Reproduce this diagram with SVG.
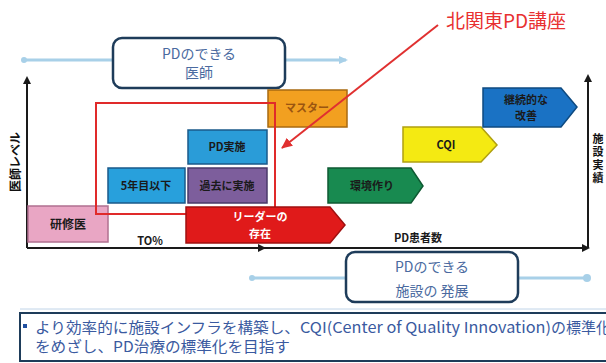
<svg xmlns="http://www.w3.org/2000/svg" width="606" height="363" viewBox="0 0 606 363">
<defs>
<style>
text{font-family:"Noto Sans CJK JP","Liberation Sans",sans-serif}
.lbl{font-size:11px;font-weight:bold;fill:#1a1a1a;text-anchor:middle}
.cap{font-size:14px;fill:#4a6aa0;text-anchor:middle}
.rbox{fill:#fff;stroke:#1e3c5a;stroke-width:2.5}
.lb{stroke:#a8d0e8;stroke-width:3;fill:none}
.ax{stroke:#1a1a1a;stroke-width:2;fill:none}
.blk{stroke-width:1.5}
</style>
<marker id="ah" markerWidth="8" markerHeight="8" refX="6" refY="4" orient="auto" markerUnits="userSpaceOnUse"><path d="M0,0 L8,4 L0,8 z" fill="#1a1a1a"/></marker>
<marker id="ahb" markerWidth="10" markerHeight="10" refX="7" refY="5" orient="auto" markerUnits="userSpaceOnUse"><path d="M0,1 L9,5 L0,9 z" fill="#a8d0e8"/></marker>
<marker id="ahr" markerWidth="12" markerHeight="12" refX="10" refY="6" orient="auto" markerUnits="userSpaceOnUse"><path d="M0,1 L11,6 L0,11 z" fill="#e03030"/></marker>
</defs>

<g id="connectors">
<line class="lb" x1="24" y1="60" x2="346" y2="60" marker-end="url(#ahb)"/>
<circle cx="24" cy="60" r="3" fill="#a8d0e8"/>
<line class="lb" x1="252" y1="278" x2="588" y2="278"/>
<circle cx="252" cy="278" r="3" fill="#a8d0e8"/>
<circle cx="587" cy="278" r="4" fill="#a8d0e8"/>
<line class="ax" x1="27" y1="248" x2="27" y2="78" marker-end="url(#ah)"/>
<line class="ax" x1="27" y1="248" x2="588" y2="248" marker-end="url(#ah)"/>
<line class="ax" x1="200" y1="248" x2="264" y2="248" marker-end="url(#ah)"/>
<line class="ax" x1="588" y1="248" x2="588" y2="76" marker-end="url(#ah)"/>
</g>

<g id="axis-labels">
<text x="14" y="162" transform="rotate(-90 14 162)" style="font-size:12px;font-weight:bold;fill:#111;text-anchor:middle;dominant-baseline:central">医師レベル</text>
<text x="598" y="133" style="font-size:11px;font-weight:bold;fill:#111;writing-mode:vertical-rl;letter-spacing:2px">施設実績</text>
<text class="lbl" x="150" y="245">TO%</text>
<text class="lbl" x="418" y="242">PD患者数</text>
</g>

<g id="top-box">
<rect class="rbox" x="113" y="38" width="172" height="50" rx="9"/>
<text class="cap" x="199" y="59">PDのできる</text>
<text class="cap" x="199" y="78">医師</text>
</g>

<g id="bottom-box">
<rect class="rbox" x="346" y="252" width="172" height="50" rx="9"/>
<text class="cap" x="432" y="272">PDのできる</text>
<text class="cap" x="432" y="296">施設の 発展</text>
</g>

<g id="n-kenshui">
<rect x="28" y="206" width="80" height="36" fill="#e9a6c4" stroke="#b07090" class="blk"/>
<text class="lbl" x="68" y="229" style="font-size:12px">研修医</text>
</g>

<g id="n-5nen">
<rect x="108" y="168" width="77" height="35" fill="#28a0dc" stroke="#1a5a8a" class="blk"/>
<text class="lbl" x="146" y="190">5年目以下</text>
</g>

<g id="n-kako">
<rect x="188" y="168" width="79" height="35" fill="#7d5e9c" stroke="#4a3a6a" class="blk"/>
<text class="lbl" x="227" y="190">過去に実施</text>
</g>

<g id="n-pdjisshi">
<rect x="188" y="130" width="79" height="34" fill="#2a9cd8" stroke="#1a5a8a" class="blk"/>
<text class="lbl" x="227" y="151">PD実施</text>
</g>

<g id="n-master">
<rect x="268" y="90" width="79" height="37" fill="#f2a020" stroke="#a86a10" class="blk"/>
<text class="lbl" x="307" y="112" style="fill:#9a5510">マスター</text>
</g>

<g id="n-kankyo">
<path d="M328,168 L411,168 L423,186 L411,203 L328,203 Z" fill="#188a50" stroke="#0e5a32" class="blk"/>
<text class="lbl" x="372" y="190">環境作り</text>
</g>

<g id="n-cqi">
<path d="M403,127 L481,127 L497,145 L481,162 L403,162 Z" fill="#f4ea12" stroke="#b0a010" class="blk"/>
<text class="lbl" x="446" y="149">CQI</text>
</g>

<g id="n-keizoku">
<path d="M483,88 L561,88 L577,107 L561,127 L483,127 Z" fill="#1a72c4" stroke="#0e4a80" class="blk"/>
<text class="lbl" x="526" y="104">継続的な</text>
<text class="lbl" x="526" y="120">改善</text>
</g>

<g id="kitakanto">
<rect x="96" y="103" width="179" height="111" fill="none" stroke="#e02a2a" stroke-width="2"/>
<line x1="438" y1="25" x2="282" y2="148" stroke="#e03030" stroke-width="2" marker-end="url(#ahr)"/>
<text x="446" y="28" style="font-size:19px;fill:#e83030">北関東PD講座</text>
</g>

<g id="n-leader">
<path d="M186,207 L330,207 L345,225 L330,243 L186,243 Z" fill="#e01a1a" stroke="#a01010" class="blk"/>
<text class="lbl" x="260" y="221" style="fill:#fff">リーダーの</text>
<text class="lbl" x="260" y="238" style="fill:#fff">存在</text>
</g>

<g id="note">
<line x1="20" y1="309" x2="606" y2="309" stroke="#c0d4e8" stroke-width="1"/>
<rect x="20" y="313" width="600" height="48" fill="#fff" stroke="#1e3c5a" stroke-width="2"/>
<rect x="23" y="324" width="4" height="4" fill="#2050a0"/>
<text style="font-size:15px;fill:#3a5aa0"><tspan x="35" y="333" textLength="265" lengthAdjust="spacingAndGlyphs">より効率的に施設インフラを構築し、</tspan><tspan x="300" y="333" textLength="251" lengthAdjust="spacingAndGlyphs">CQI(Center of Quality Innovation)</tspan><tspan x="551" y="333">の標準化</tspan></text>
<text x="35" y="352" textLength="255" lengthAdjust="spacingAndGlyphs" style="font-size:15px;fill:#3a5aa0">をめざし、PD治療の標準化を目指す</text>
</g>
</svg>
